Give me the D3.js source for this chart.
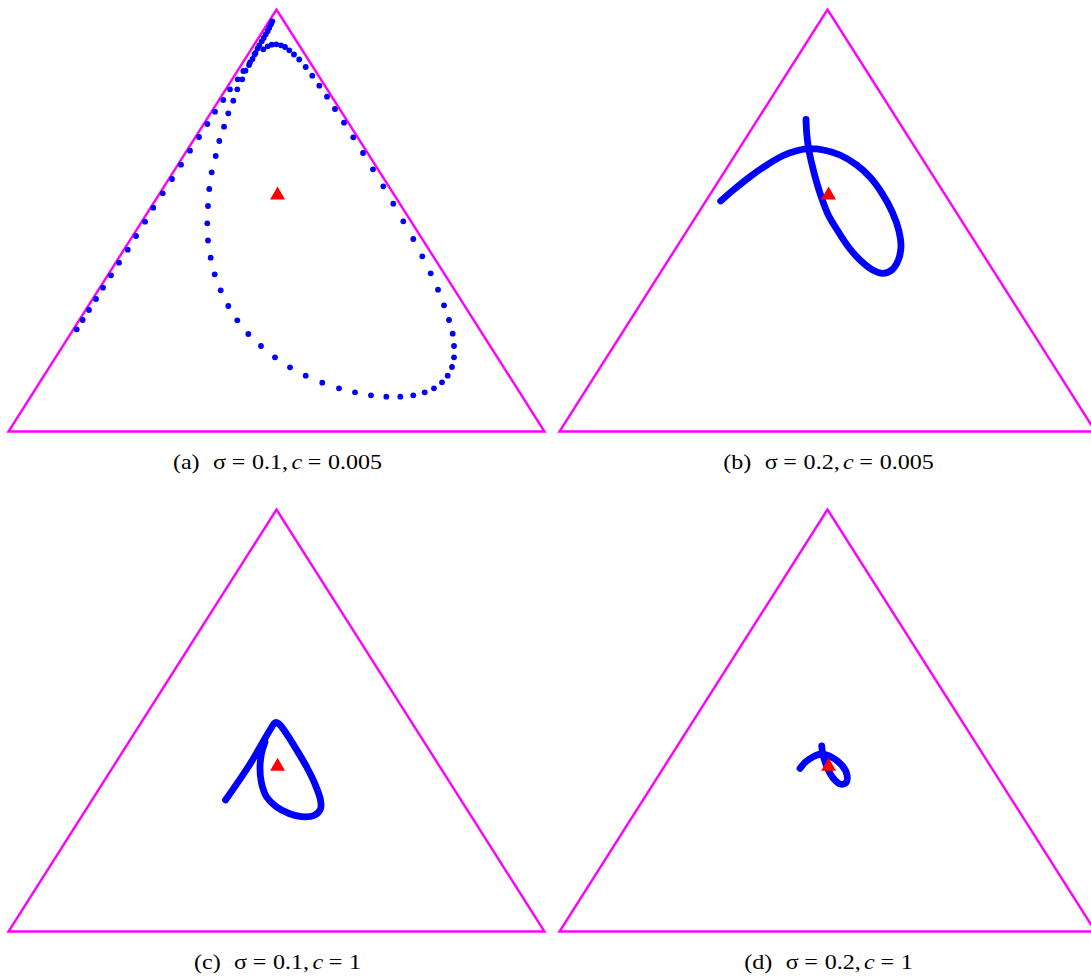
<!DOCTYPE html>
<html>
<head>
<meta charset="utf-8">
<script src="https://cdn.jsdelivr.net/npm/d3@7"></script>
<style>
  html, body { margin: 0; padding: 0; background: #fff; }
  svg { display: block; }
</style>
</head>
<body>
<svg id="chart" width="1091" height="977"></svg>
<script>
// Simplex drawn in plane coordinates: base from (0,0) to (1,0), apex at (0.5,1).
const simplexVertices = [[0, 0], [1, 0], [0.5, 1]];

// Panel (a): sigma = 0.1, c = 0.005 — sampled trajectory (one dot per time step)
const trajA = [
  [0.1272,0.2422],[0.1384,0.2642],[0.1502,0.2879],[0.1632,0.3140],[0.1763,0.3408],
  [0.1912,0.3701],[0.2062,0.4000],[0.2224,0.4308],[0.2379,0.4633],[0.2547,0.4972],
  [0.2701,0.5303],[0.2877,0.5645],[0.3050,0.5983],[0.3218,0.6322],[0.3386,0.6654],
  [0.3554,0.6979],[0.3709,0.7287],[0.3853,0.7578],[0.4007,0.7855],[0.4132,0.8109],
  [0.4276,0.8346],[0.4381,0.8543],[0.4506,0.8744],[0.4590,0.8934],
  [0.4754,0.9057],[0.4836,0.9128],[0.4910,0.9166],[0.4996,0.9175],[0.5084,0.9152],
  [0.5159,0.9111],[0.5239,0.9033],[0.5326,0.8934],[0.5424,0.8815],[0.5545,0.8637],
  [0.5668,0.8431],[0.5799,0.8194],[0.5942,0.7934],[0.6091,0.7642],[0.6259,0.7318],
  [0.6433,0.6972],[0.6614,0.6600],[0.6800,0.6213],[0.6993,0.5810],[0.7179,0.5398],
  [0.7366,0.4981],[0.7552,0.4562],[0.7720,0.4152],[0.7877,0.3749],[0.8013,0.3360],
  [0.8125,0.2991],[0.8218,0.2642],[0.8287,0.2318],[0.8312,0.2026],[0.8312,0.1758],
  [0.8274,0.1528],[0.8194,0.1322],[0.8088,0.1166],[0.7938,0.1024],[0.7765,0.0929],
  [0.7552,0.0858],[0.7310,0.0825],[0.7049,0.0825],[0.6763,0.0858],[0.6465,0.0929],
  [0.6166,0.1024],[0.5854,0.1156],[0.5545,0.1322],[0.5252,0.1521],[0.4972,0.1758],
  [0.4711,0.2026],[0.4474,0.2310],[0.4269,0.2635],[0.4101,0.2974],[0.3959,0.3346],
  [0.3847,0.3725],[0.3772,0.4118],[0.3722,0.4526],[0.3709,0.4934],[0.3722,0.5344],
  [0.3746,0.5746],[0.3791,0.6142],[0.3866,0.6528],[0.3933,0.6884],[0.4021,0.7223],
  [0.4101,0.7540],[0.4194,0.7839],[0.4269,0.8109],[0.4362,0.8346],[0.4422,0.8550],
  [0.4487,0.8685],[0.4552,0.8827],[0.4608,0.8969],[0.4646,0.9076],[0.4679,0.9152],
  [0.4724,0.9246],[0.4761,0.9325],[0.4799,0.9412],[0.4836,0.9491],[0.4866,0.9569],
  [0.4897,0.9649],[0.4922,0.9720]
];

// Panel (b): sigma = 0.2, c = 0.005
const trajB = [
  [0.3007,0.5462],[0.3243,0.5723],[0.3554,0.6038],[0.3866,0.6315],[0.4175,0.6540],
  [0.4425,0.6654],[0.4642,0.6701],[0.4922,0.6671],[0.5233,0.6552],[0.5545,0.6315],
  [0.5800,0.6020],[0.6030,0.5620],[0.6215,0.5180],[0.6335,0.4740],[0.6371,0.4379],
  [0.6321,0.4064],[0.6198,0.3827],[0.6030,0.3749],[0.5843,0.3827],[0.5606,0.4064],
  [0.5388,0.4379],[0.5201,0.4735],[0.5015,0.5130],[0.4892,0.5526],[0.4785,0.5960],
  [0.4705,0.6355],[0.4642,0.6749],[0.4612,0.7066],[0.4599,0.7398]
];

// Panel (c): sigma = 0.1, c = 1
const trajC = [
  [0.4049,0.3116],[0.4506,0.3969],[0.4879,0.4775],[0.4981,0.4953],[0.5047,0.4917],
  [0.5190,0.4680],[0.5377,0.4301],[0.5563,0.3898],[0.5718,0.3495],[0.5821,0.3116],
  [0.5821,0.2903],[0.5700,0.2749],[0.5470,0.2720],[0.5233,0.2796],[0.4991,0.2962],
  [0.4813,0.3194],[0.4720,0.3519],[0.4692,0.3874],[0.4720,0.4218],[0.4785,0.4491]
];

// Panel (d): sigma = 0.2, c = 1
const trajD = [
  [0.4487,0.3867],[0.4599,0.4028],[0.4735,0.4142],[0.4892,0.4206],[0.5078,0.4128],
  [0.5265,0.3945],[0.5364,0.3709],[0.5345,0.3526],[0.5233,0.3495],[0.5108,0.3630],
  [0.5015,0.3827],[0.4953,0.4024],[0.4910,0.4223],[0.4892,0.4396]
];

// Interior rest points for the two values of c
const restPointSmallC = [0.502, 0.560];
const restPointLargeC = [0.502, 0.391];

// Panel captions
const captionLabels = ["(a)", "(b)", "(c)", "(d)"];
const sigmaValues = ["0.1", "0.2", "0.1", "0.2"];
const cValues = ["0.005", "0.005", "1", "1"];

const panels = [
  { traj: trajA, rest: restPointSmallC, style: "dots", ox: 8.5,   oy: 9.5 },
  { traj: trajB, rest: restPointSmallC, style: "dense", ox: 559.5, oy: 9.5 },
  { traj: trajC, rest: restPointLargeC, style: "dense", ox: 8.5,   oy: 509.5 },
  { traj: trajD, rest: restPointLargeC, style: "dense", ox: 559.5, oy: 509.5 }
];

const W = 536, H = 422;
const svg = d3.select("#chart");

panels.forEach((p, i) => {
  const x = d3.scaleLinear().domain([0, 1]).range([p.ox, p.ox + W]);
  const y = d3.scaleLinear().domain([0, 1]).range([p.oy + H, p.oy]);
  const g = svg.append("g");

  // simplex outline
  g.append("path")
    .attr("d", d3.line().x(d => x(d[0])).y(d => y(d[1]))(simplexVertices) + "Z")
    .attr("fill", "none")
    .attr("stroke", "#ff00ff")
    .attr("stroke-width", 2.4)
    .attr("stroke-linejoin", "miter");

  // trajectory
  if (p.style === "dots") {
    g.selectAll("circle.traj").data(p.traj).join("circle")
      .attr("class", "traj")
      .attr("cx", d => x(d[0]))
      .attr("cy", d => y(d[1]))
      .attr("r", 2.9)
      .attr("fill", "#0000ff");
  } else {
    g.append("path")
      .attr("d", d3.line().x(d => x(d[0])).y(d => y(d[1])).curve(d3.curveCatmullRom.alpha(0.5))(p.traj))
      .attr("fill", "none")
      .attr("stroke", "#0000ff")
      .attr("stroke-width", 6.8)
      .attr("stroke-linecap", "round")
      .attr("stroke-linejoin", "round");
  }

  // rest point marker
  g.append("path")
    .attr("d", d3.symbol().type(d3.symbolTriangle).size(97)())
    .attr("transform", `translate(${x(p.rest[0])},${y(p.rest[1])})`)
    .attr("fill", "#ff0000");

  // caption, set in a slightly widened serif face
  const cap = g.append("g")
    .attr("transform", `translate(${x(0.5) + 1},${p.oy + H + 37}) scale(1.12,1)`);
  const t = cap.append("text")
    .attr("x", 0)
    .attr("y", 0)
    .attr("text-anchor", "middle")
    .attr("font-family", "'Liberation Serif', 'Times New Roman', serif")
    .attr("font-size", 21.5)
    .attr("fill", "#000");
  t.append("tspan").text(captionLabels[i]);
  t.append("tspan").attr("dx", 12).text("σ");
  t.append("tspan").attr("dx", 5).text("=");
  t.append("tspan").attr("dx", 6).text(sigmaValues[i] + ",");
  t.append("tspan").attr("dx", 3).attr("font-style", "italic").text("c");
  t.append("tspan").attr("dx", 5).text("=");
  t.append("tspan").attr("dx", 6).text(cValues[i]);
});
</script>
</body>
</html>
